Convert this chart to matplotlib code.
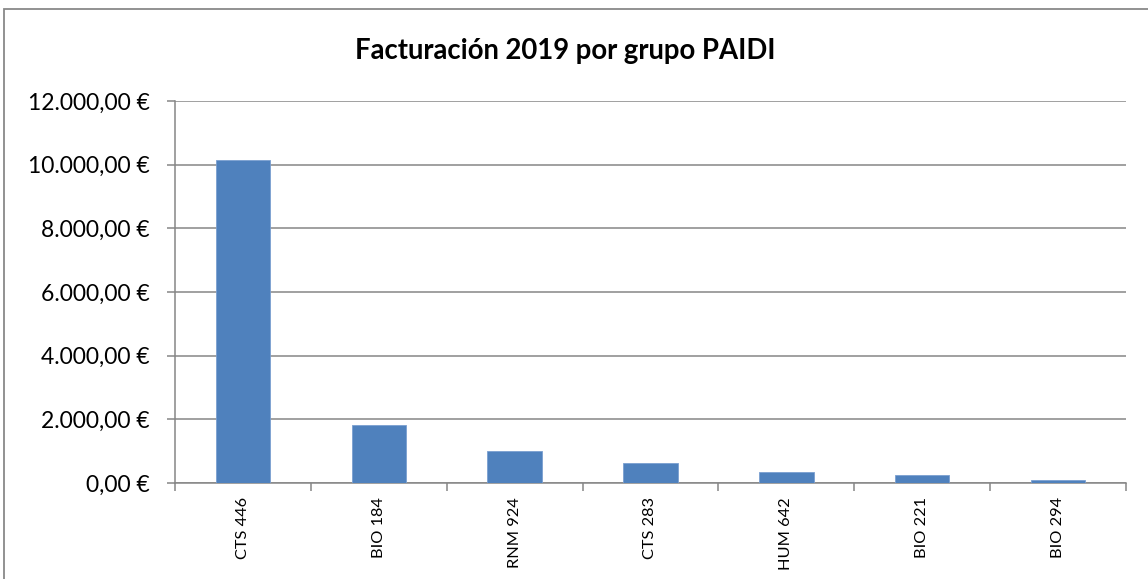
import matplotlib
matplotlib.use("Agg")
import matplotlib.pyplot as plt
from matplotlib.patches import Rectangle

categories = ["CTS 446", "BIO 184", "RNM 924", "CTS 283", "HUM 642", "BIO 221", "BIO 294"]
values = [10150, 1820, 1000, 620, 350, 245, 95]
y_ticks = [0, 2000, 4000, 6000, 8000, 10000, 12000]
title = "Facturación 2019 por grupo PAIDI"

def eur(v):
    s = f"{v:,.2f}"
    s = s.replace(",", "X").replace(".", ",").replace("X", ".")
    return s + " €"

plt.rcParams['font.family'] = ['Lato', 'DejaVu Sans']

W, H = 1148, 579
fig = plt.figure(figsize=(W / 100, H / 100), dpi=100)
fig.patch.set_facecolor("white")

# chart frame
fig.add_artist(Rectangle((4 / W, -0.1), 1.2, 1 - 8.5 / H + 0.1, transform=fig.transFigure,
                         fill=False, edgecolor="#898989", linewidth=1.3))

left, right, bottom, top = 175, 1126, 483, 101
ax = fig.add_axes([left / W, 1 - bottom / H, (right - left) / W, (bottom - top) / H])

x = list(range(len(categories)))
ax.bar(x, values, width=0.4, color="#4F81BD", edgecolor="#7a9fd0", linewidth=0.6, zorder=3)
ax.set_xlim(-0.5, len(categories) - 0.5)
ax.set_ylim(0, 12000)
ax.set_yticks(y_ticks)
ax.set_yticklabels([eur(v) for v in y_ticks], fontsize=16.5)
ax.set_xticks(x)
ax.set_xticklabels(categories, rotation=90, fontsize=11.8)
ax.yaxis.grid(True, color="#868686", linewidth=1.1, zorder=0)
for s in ["top", "right"]:
    ax.spines[s].set_visible(False)
for s in ["left", "bottom"]:
    ax.spines[s].set_color("#868686")
    ax.spines[s].set_linewidth(1.1)
ax.set_xticks([i + 0.5 for i in range(-1, len(categories))], minor=True)
ax.tick_params(axis="x", which="major", length=0, pad=10)
ax.tick_params(axis="x", which="minor", length=6, color="#868686", width=1.1)
ax.tick_params(axis="y", length=6, color="#868686", width=1.1, pad=12)

fig.text(565 / W, 1 - 51 / H, title, ha="center", va="center", fontsize=19.8, fontweight="bold")

fig.savefig("out.png", dpi=100)
